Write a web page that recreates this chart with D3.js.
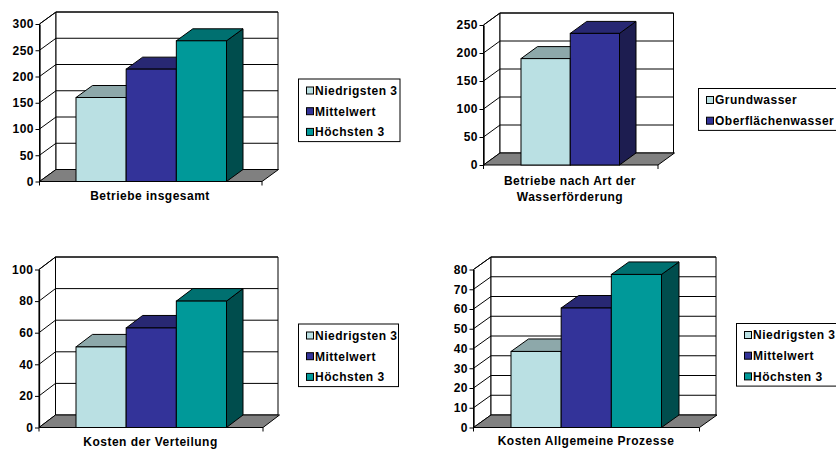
<!DOCTYPE html>
<html>
<head>
<meta charset="utf-8">
<script src="https://cdn.jsdelivr.net/npm/d3@7"></script>
<style>
  html, body { margin: 0; padding: 0; background: #fff; }
  svg { display: block; }
  text { font-family: "Liberation Sans", Arial, sans-serif; font-weight: bold; }
</style>
</head>
<body>
<svg id="chart" width="836" height="449"></svg>
<script>
// Series names
const seriesBenchmark = ["Niedrigsten 3", "Mittelwert", "Höchsten 3"];
const seriesWater = ["Grundwasser", "Oberflächenwasser"];

// Values per chart
const betriebeInsgesamt = [160, 214, 268];
const betriebeWasser = [190, 235];
const kostenVerteilung = [51, 63, 80];
const kostenAllgemein = [38.5, 60.5, 77.5];

// Value-axis ticks
const ticksBetriebe = [0, 50, 100, 150, 200, 250, 300];
const ticksWasser = [0, 50, 100, 150, 200, 250];
const ticksVerteilung = [0, 20, 40, 60, 80, 100];
const ticksAllgemein = [0, 10, 20, 30, 40, 50, 60, 70, 80];

// Chart titles
const titleBetriebe = ["Betriebe insgesamt"];
const titleWasser = ["Betriebe nach Art der", "Wasserförderung"];
const titleVerteilung = ["Kosten der Verteilung"];
const titleAllgemein = ["Kosten Allgemeine Prozesse"];

// Face colours of the 3D columns: front, top, side
const palette = {
  "Niedrigsten 3": ["#bae0e3", "#8da8aa", "#5d7072"],
  "Grundwasser": ["#bae0e3", "#8da8aa", "#5d7072"],
  "Mittelwert": ["#333399", "#282873", "#1d1d50"],
  "Oberflächenwasser": ["#333399", "#282873", "#1d1d50"],
  "Höchsten 3": ["#009999", "#007070", "#004d4d"]
};

const svg = d3.select("#chart");
const LS = "0.5px";

function drawPanel(cfg) {
  const g = svg.append("g");
  const { fx, y0, ytop, dx, dy, backRight, floorRight } = cfg;
  const y = d3.scaleLinear().domain([0, d3.max(cfg.ticks)]).range([y0, ytop]);
  const x = d3.scaleBand().domain(cfg.names).range(cfg.barRange).paddingInner(0).paddingOuter(0);
  const line = d3.line();

  // left side wall
  g.append("path")
    .attr("d", line([[fx, y0], [fx, ytop], [fx + dx, ytop + dy], [fx + dx, y0 + dy]]) + "Z")
    .attr("fill", "#fff").attr("stroke", "#000");
  // back wall
  g.append("path")
    .attr("d", line([[fx + dx, ytop + dy], [backRight, ytop + dy], [backRight, y0 + dy], [fx + dx, y0 + dy]]) + "Z")
    .attr("fill", "#fff").attr("stroke", "#000");

  // gridlines on back and side walls
  const inner = cfg.ticks.filter(t => t > 0);
  g.selectAll(".grid-back").data(inner).join("line")
    .attr("x1", fx + dx).attr("x2", backRight)
    .attr("y1", d => y(d) + dy).attr("y2", d => y(d) + dy)
    .attr("stroke", "#000");
  g.selectAll(".grid-side").data(inner).join("line")
    .attr("x1", fx).attr("x2", fx + dx)
    .attr("y1", d => y(d)).attr("y2", d => y(d) + dy)
    .attr("stroke", "#000");

  // floor
  g.append("path")
    .attr("d", line([[fx, y0], [floorRight, y0], [floorRight + dx, y0 + dy], [fx + dx, y0 + dy]]) + "Z")
    .attr("fill", "#808080").attr("stroke", "#000");

  // columns, left to right so each front covers the previous side face
  const bw = x.bandwidth();
  cfg.names.forEach((name, i) => {
    const v = cfg.values[i];
    const xl = x(name), xr = xl + bw, yv = y(v);
    const [cFront, cTop, cSide] = palette[name];
    g.append("path")
      .attr("d", line([[xr, yv], [xr + dx, yv + dy], [xr + dx, y0 + dy], [xr, y0]]) + "Z")
      .attr("fill", cSide).attr("stroke", "#000");
    g.append("path")
      .attr("d", line([[xl, yv], [xl + dx, yv + dy], [xr + dx, yv + dy], [xr, yv]]) + "Z")
      .attr("fill", cTop).attr("stroke", "#000");
    g.append("rect")
      .attr("x", xl).attr("y", yv).attr("width", bw).attr("height", y0 - yv)
      .attr("fill", cFront).attr("stroke", "#000");
  });

  // value axis on the front-left edge
  const axis = g.append("g")
    .attr("transform", `translate(${fx},0)`)
    .call(d3.axisLeft(y).tickValues(cfg.ticks).tickSize(4).tickSizeOuter(0).tickPadding(1.5));
  axis.select(".domain").attr("stroke", "#000").attr("stroke-width", 1.3);
  axis.selectAll(".tick line").attr("stroke", "#000");
  axis.selectAll(".tick text")
    .attr("font-family", "Liberation Sans, Arial, sans-serif")
    .attr("font-size", 12).attr("font-weight", "bold")
    .attr("fill", "#000").style("letter-spacing", LS);
  axis.attr("font-size", null).attr("font-family", null);

  // category axis end ticks
  [fx, floorRight].forEach(px => {
    g.append("line").attr("x1", px).attr("x2", px).attr("y1", y0).attr("y2", y0 + 4).attr("stroke", "#000");
  });

  // category title
  cfg.title.forEach((t, i) => {
    g.append("text")
      .attr("x", cfg.titlePos[0]).attr("y", cfg.titlePos[1] + i * 16)
      .attr("text-anchor", "middle").attr("font-size", 12)
      .style("letter-spacing", LS).text(t);
  });

  // legend
  const [lx, ly, lw] = cfg.legend;
  const lh = 20.7 * cfg.names.length + 0.5;
  const lg = g.append("g");
  lg.append("rect").attr("x", lx).attr("y", ly).attr("width", lw).attr("height", lh)
    .attr("fill", "#fff").attr("stroke", "#000");
  cfg.names.forEach((name, i) => {
    const ry = ly + 11.5 + i * 20.7;
    lg.append("rect").attr("x", lx + 8).attr("y", ry - 3.5).attr("width", 7).attr("height", 7)
      .attr("fill", palette[name][0]).attr("stroke", "#000");
    lg.append("text").attr("x", lx + 16.5).attr("y", ry).attr("dy", "0.36em")
      .attr("font-size", 12).style("letter-spacing", LS).text(name);
  });
}

drawPanel({
  names: seriesBenchmark, values: betriebeInsgesamt, ticks: ticksBetriebe, title: titleBetriebe,
  fx: 39.5, y0: 181.5, ytop: 24, dx: 16.5, dy: -12, backRight: 278, floorRight: 262,
  barRange: [76, 226.5], titlePos: [150, 199.5], legend: [298.5, 79, 101.5]
});
drawPanel({
  names: seriesWater, values: betriebeWasser, ticks: ticksWasser, title: titleWasser,
  fx: 483.5, y0: 165, ytop: 25, dx: 16.5, dy: -12, backRight: 673.5, floorRight: 658,
  barRange: [521, 619.5], titlePos: [570, 184.5], legend: [698.5, 88.5, 140]
});
drawPanel({
  names: seriesBenchmark, values: kostenVerteilung, ticks: ticksVerteilung, title: titleVerteilung,
  fx: 39, y0: 427.5, ytop: 269.5, dx: 16.5, dy: -12.5, backRight: 278, floorRight: 263,
  barRange: [76, 226.5], titlePos: [150.5, 445.5], legend: [298.5, 324, 100]
});
drawPanel({
  names: seriesBenchmark, values: kostenAllgemein, ticks: ticksAllgemein, title: titleAllgemein,
  fx: 473.5, y0: 427.5, ytop: 269.5, dx: 17.5, dy: -12.5, backRight: 716, floorRight: 699.5,
  barRange: [511, 661.5], titlePos: [586, 444.5], legend: [736.5, 323.5, 102]
});
</script>
</body>
</html>
